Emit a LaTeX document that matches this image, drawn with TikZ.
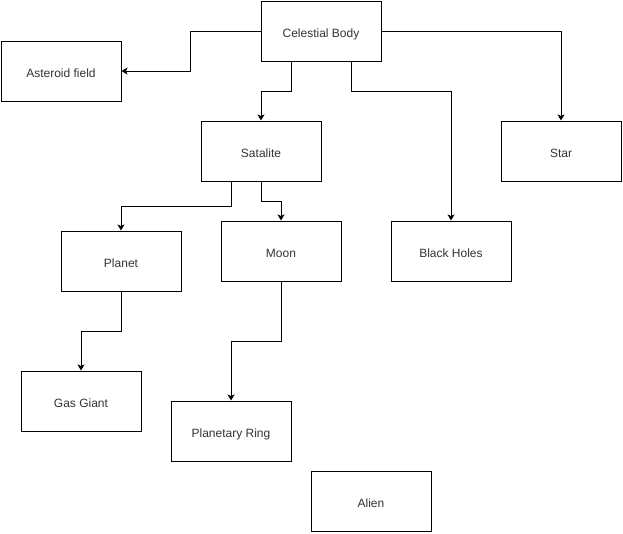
\documentclass[tikz,border=0pt]{standalone}
\usepackage{fontspec}
\setmainfont{Liberation Sans}
\usetikzlibrary{arrows.meta}
\definecolor{labelgray}{HTML}{333333}
\begin{document}
\begin{tikzpicture}[x=1pt,y=-1pt,
  box/.style={draw=black,line width=1pt,rectangle,minimum width=120pt,minimum height=60pt,
    inner sep=0pt,text height=12pt,text depth=0pt,text=labelgray,
    font=\fontsize{12pt}{14pt}\selectfont},
  link/.style={line width=1pt,-{Stealth[length=6pt,width=7pt,inset=1.5pt]}}]
\useasboundingbox (0,0) rectangle (623,533);
% boxes
\node[box] (body)     at (321,31)  {Celestial Body};
\node[box] (asteroid) at (61,71)   {Asteroid field};
\node[box] (sat)      at (261,151) {Satalite};
\node[box] (star)     at (561,151) {Star};
\node[box] (planet)   at (121,261) {Planet};
\node[box] (moon)     at (281,251) {Moon};
\node[box] (black)    at (451,251) {Black Holes};
\node[box] (gas)      at (81,401)  {Gas Giant};
\node[box] (ring)     at (231,431) {Planetary Ring};
\node[box] (alien)    at (371,501) {Alien};
% connectors
\draw[link] (body.west) -- ++(-70,0) |- (asteroid.east);
\draw[link] ([xshift=-30pt]body.south) -- ++(0,30) -| (sat.north);
\draw[link] ([xshift=30pt]body.south) -- ++(0,30) -| (black.north);
\draw[link] (body.east) -| (star.north);
\draw[link] ([xshift=-30pt]sat.south) -- ++(0,25) -| (planet.north);
\draw[link] (sat.south) -- ++(0,20) -| (moon.north);
\draw[link] (planet.south) -- ++(0,40) -| (gas.north);
\draw[link] (moon.south) -- ++(0,60) -| (ring.north);
\end{tikzpicture}
\end{document}
